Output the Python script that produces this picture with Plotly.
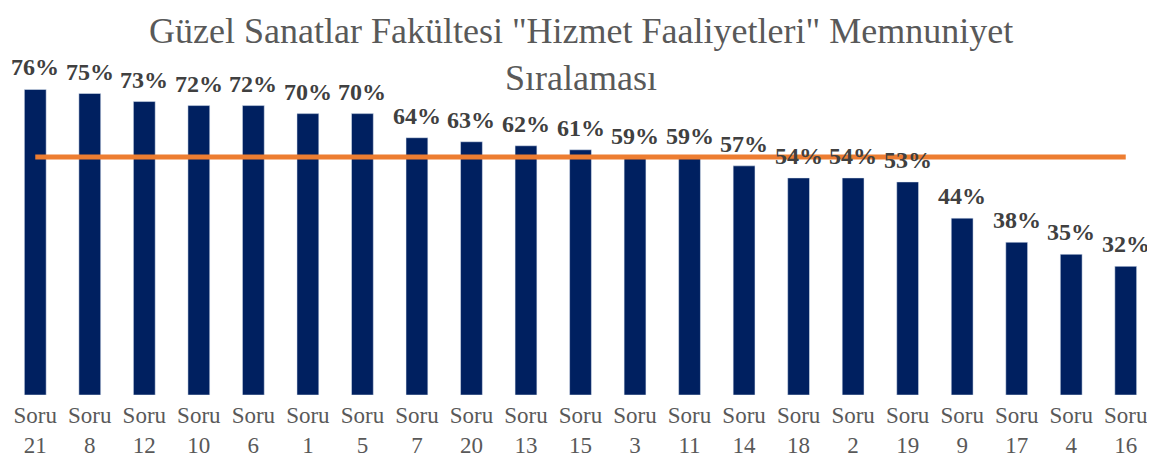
import plotly.graph_objects as go

sorular = ['Soru<br>21', 'Soru<br>8', 'Soru<br>12', 'Soru<br>10', 'Soru<br>6', 'Soru<br>1', 'Soru<br>5',
           'Soru<br>7', 'Soru<br>20', 'Soru<br>13', 'Soru<br>15', 'Soru<br>3', 'Soru<br>11', 'Soru<br>14',
           'Soru<br>18', 'Soru<br>2', 'Soru<br>19', 'Soru<br>9', 'Soru<br>17', 'Soru<br>4', 'Soru<br>16']
memnuniyet = [0.76, 0.75, 0.73, 0.72, 0.72, 0.70, 0.70, 0.64, 0.63, 0.62, 0.61,
              0.59, 0.59, 0.57, 0.54, 0.54, 0.53, 0.44, 0.38, 0.35, 0.32]
ortalama = sum(memnuniyet) / len(memnuniyet)

baslik = 'Güzel Sanatlar Fakültesi "Hizmet Faaliyetleri" Memnuniyet<br>Sıralaması'

serif = 'Liberation Serif, Times New Roman, serif'

fig = go.Figure()

# bars
fig.add_trace(go.Bar(
    x=sorular,
    y=memnuniyet,
    marker=dict(color='#002060'),
    showlegend=False,
))

# average line
fig.add_trace(go.Scatter(
    x=sorular,
    y=[ortalama] * len(sorular),
    mode='lines',
    line=dict(color='#ED7D31', width=5),
    showlegend=False,
))

# value labels above the bars
for s, v in zip(sorular, memnuniyet):
    fig.add_annotation(
        x=s, y=v, text='<b>%d%%</b>' % round(v * 100),
        showarrow=False, yanchor='bottom', yshift=7,
        font=dict(family=serif, size=24, color='#404040'),
    )

# title as an annotation so its position can be set exactly
fig.add_annotation(
    xref='paper', yref='paper', x=0.5, y=0.934,
    xanchor='center', yanchor='middle',
    text=baslik, showarrow=False,
    font=dict(family=serif, size=36, color='#595959'),
)

# page body has an 8px margin, so the figure is a bit smaller than the window
fig.update_layout(
    width=1147, height=457,
    margin=dict(l=0, r=2, t=22, b=70),
    plot_bgcolor='white',
    paper_bgcolor='white',
    bargap=0.6,
    xaxis=dict(
        showline=False, showgrid=False, ticks='', automargin=False,
        ticklabelstandoff=4,
        tickfont=dict(family=serif, size=23, color='#595959'),
    ),
    yaxis=dict(
        range=[0, 0.908], visible=False, showgrid=False, automargin=False,
    ),
)

fig.write_html("out.html")
